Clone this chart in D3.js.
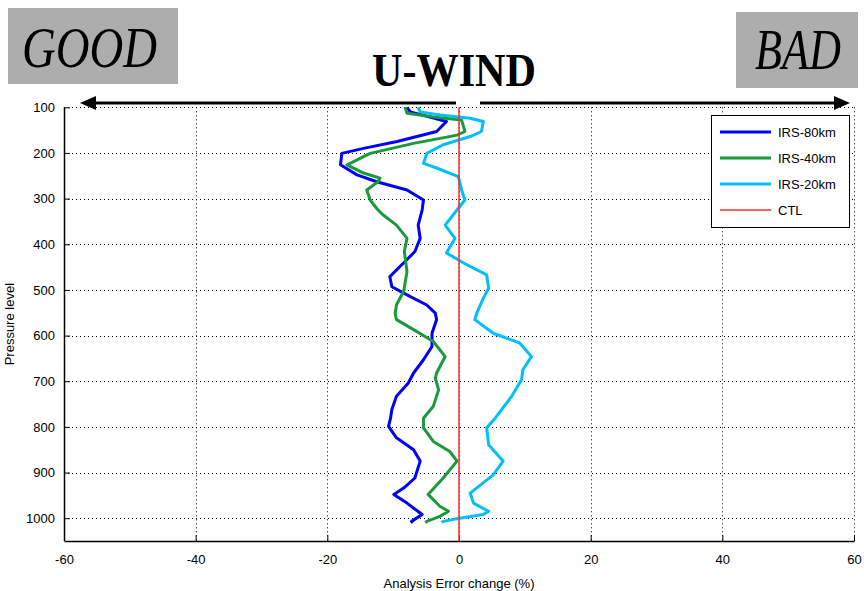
<!DOCTYPE html>
<html>
<head>
<meta charset="utf-8">
<script src="https://cdn.jsdelivr.net/npm/d3@7"></script>
<style>
  body { margin: 0; background: #fff; }
  svg { display: block; }
  .tick text { font-family: "Liberation Sans", Arial, sans-serif; font-size: 13px; fill: #000; }
</style>
</head>
<body>
<div id="chart"></div>
<script>
// U-WIND analysis error change profiles
const xTicks = [-60, -40, -20, 0, 20, 40, 60];
const yTicks = [100, 200, 300, 400, 500, 600, 700, 800, 900, 1000];
const seriesNames = ['IRS-80km', 'IRS-40km', 'IRS-20km', 'CTL'];
const seriesColors = ['#0000ff', '#1a9a3a', '#00bfff', '#ff2a2a'];

const levels80 = [100,110,131,153,175,190,201,226,248,263,281,303,325,358,387,416,445,471,493,511,533,551,565,595,624,653,682,704,733,762,781,799,824,850,875,912,934,948,967,992,1007,1010];
const values80 = [-7.9,-7.4,-1.9,-3.4,-9.4,-14.5,-17.8,-18.0,-15.5,-12.5,-7.9,-5.4,-5.6,-6.2,-5.9,-6.7,-8.7,-10.5,-10.2,-7.9,-4.9,-3.6,-3.4,-4.1,-4.1,-5.4,-6.9,-7.7,-9.5,-10.2,-10.4,-10.7,-9.5,-6.9,-5.9,-6.7,-8.4,-9.9,-7.9,-5.6,-7.2,-7.0];

const levels40 = [100,113,121,128,153,161,179,201,226,244,255,263,281,303,325,336,358,387,416,460,503,533,551,565,587,613,646,682,693,719,755,781,802,832,854,875,912,948,974,985,996,1007,1010];
const values40 = [-8.2,-7.9,-3.9,0.4,0.9,-0.3,-6.9,-13.5,-17.0,-14.5,-12.0,-12.3,-14.0,-13.5,-12.3,-11.5,-9.5,-7.9,-8.3,-7.9,-8.4,-9.5,-9.7,-9.5,-6.9,-3.9,-2.1,-3.4,-3.6,-3.1,-3.9,-5.4,-5.4,-3.9,-1.4,-0.3,-2.4,-4.7,-2.9,-1.6,-2.9,-4.9,-5.1];

const levels20 = [100,110,117,124,131,153,164,182,201,223,233,252,281,303,321,358,387,419,441,467,496,518,551,565,595,616,646,675,697,733,781,802,839,875,905,945,967,985,992,1000,1007,1010];
const values20 = [-6.2,-5.9,-2.9,1.7,3.7,3.4,1.7,-2.4,-4.9,-5.4,-3.4,-0.1,0.4,0.9,-0.1,-2.1,-0.6,-1.9,0.7,4.2,4.5,3.7,2.7,2.4,5.2,9.2,11.0,9.7,9.5,8.0,5.5,4.2,4.5,6.7,5.2,1.7,2.2,4.5,3.7,0.1,-2.4,-2.6];

const ctlLevels = [100, 1050];
const ctlValues = [0, 0];

const width = 864, height = 591;
const plot = { left: 64, right: 854, top: 107.3, bottom: 541 };

const svg = d3.select('#chart').append('svg')
  .attr('width', width)
  .attr('height', height);

const x = d3.scaleLinear().domain([-60, 60]).range([plot.left, plot.right]);
const y = d3.scaleLinear().domain([100, 1050]).range([plot.top, plot.bottom]);

// dotted grid
const grid = svg.append('g').attr('class', 'grid')
  .attr('stroke', '#000').attr('stroke-width', 1).attr('stroke-dasharray', '1,3');
grid.selectAll('.vg').data(xTicks.filter(d => d !== -60)).join('line')
  .attr('x1', d => Math.round(x(d)) + 0.5).attr('x2', d => Math.round(x(d)) + 0.5)
  .attr('y1', plot.top).attr('y2', plot.bottom);
grid.selectAll('.hg').data(yTicks).join('line')
  .attr('y1', d => Math.round(y(d)) + 0.5).attr('y2', d => Math.round(y(d)) + 0.5)
  .attr('x1', plot.left).attr('x2', plot.right);

// axes (ticks pointing inward like MATLAB), plain hyphen minus, no thousands comma
const plain = d => String(d);
const xAxis = svg.append('g')
  .attr('transform', `translate(0,${plot.bottom})`)
  .call(d3.axisBottom(x).tickValues(xTicks).tickFormat(plain).tickSizeInner(-6).tickSizeOuter(0).tickPadding(14));
const yAxis = svg.append('g')
  .attr('transform', `translate(${plot.left},0)`)
  .call(d3.axisLeft(y).tickValues(yTicks).tickFormat(plain).tickSizeInner(-6).tickSizeOuter(0).tickPadding(9));
yAxis.select('.domain').attr('d', `M0.5,${plot.top}V${plot.bottom}`);
[xAxis, yAxis].forEach(a => {
  a.select('.domain').attr('stroke', '#000').attr('stroke-width', 1.5);
  a.selectAll('.tick line').attr('stroke', '#000');
});

// profiles
const line = d3.line().x(d => x(d[1])).y(d => y(d[0]));
const profiles = [
  { levels: levels80, values: values80, w: 3 },
  { levels: levels40, values: values40, w: 3 },
  { levels: levels20, values: values20, w: 3 },
  { levels: ctlLevels, values: ctlValues, w: 1.5 }
];
profiles.forEach((p, i) => {
  svg.append('path')
    .datum(d3.zip(p.levels, p.values))
    .attr('fill', 'none')
    .attr('stroke', seriesColors[i])
    .attr('stroke-width', p.w)
    .attr('stroke-linejoin', 'round')
    .attr('d', line);
});

// legend
const legend = svg.append('g').attr('transform', 'translate(711,115)');
legend.append('rect')
  .attr('x', 0.5).attr('y', 0.5).attr('width', 138).attr('height', 112)
  .attr('fill', '#fff').attr('stroke', '#000').attr('stroke-width', 1);
seriesNames.forEach((name, i) => {
  const ly = 17 + i * 26;
  legend.append('line')
    .attr('x1', 9).attr('x2', 60).attr('y1', ly).attr('y2', ly)
    .attr('stroke', seriesColors[i]).attr('stroke-width', i === 3 ? 1.5 : 3);
  legend.append('text')
    .attr('x', 67).attr('y', ly + 5)
    .style('font-family', '"Liberation Sans", Arial, sans-serif')
    .style('font-size', '13px')
    .text(name);
});

// axis labels
svg.append('text')
  .attr('x', x(0)).attr('y', 588)
  .attr('text-anchor', 'middle')
  .style('font-family', '"Liberation Sans", Arial, sans-serif')
  .style('font-size', '13px')
  .text('Analysis Error change (%)');
svg.append('text')
  .attr('transform', `translate(14,${(plot.top + plot.bottom) / 2}) rotate(-90)`)
  .attr('text-anchor', 'middle')
  .style('font-family', '"Liberation Sans", Arial, sans-serif')
  .style('font-size', '13px')
  .text('Pressure level');

// GOOD / BAD boxes and title
const serif = '"Liberation Serif", "DejaVu Serif", serif';
svg.append('rect').attr('x', 8).attr('y', 8).attr('width', 170).attr('height', 76).attr('fill', '#adadad');
svg.append('text').attr('x', 22).attr('y', 67)
  .attr('textLength', 135).attr('lengthAdjust', 'spacingAndGlyphs')
  .style('font-family', serif).style('font-style', 'italic').style('font-size', '57px')
  .text('GOOD');
svg.append('rect').attr('x', 736).attr('y', 12).attr('width', 122).attr('height', 76).attr('fill', '#adadad');
svg.append('text').attr('x', 755).attr('y', 69)
  .attr('textLength', 86).attr('lengthAdjust', 'spacingAndGlyphs')
  .style('font-family', serif).style('font-style', 'italic').style('font-size', '56px')
  .text('BAD');
svg.append('text').attr('x', 372).attr('y', 86)
  .attr('textLength', 164).attr('lengthAdjust', 'spacingAndGlyphs')
  .style('font-family', serif).style('font-weight', 'bold').style('font-size', '46px')
  .text('U-WIND');

// direction arrows above the plot
const arrows = svg.append('g').attr('fill', '#000').attr('stroke', '#000');
arrows.append('line').attr('x1', 92).attr('x2', 456).attr('y1', 103).attr('y2', 103).attr('stroke-width', 3);
arrows.append('path').attr('d', 'M80,103 L96,96 L96,110 Z').attr('stroke', 'none');
arrows.append('line').attr('x1', 480).attr('x2', 836).attr('y1', 103).attr('y2', 103).attr('stroke-width', 3);
arrows.append('path').attr('d', 'M850,103 L834,96 L834,110 Z').attr('stroke', 'none');
</script>
</body>
</html>
